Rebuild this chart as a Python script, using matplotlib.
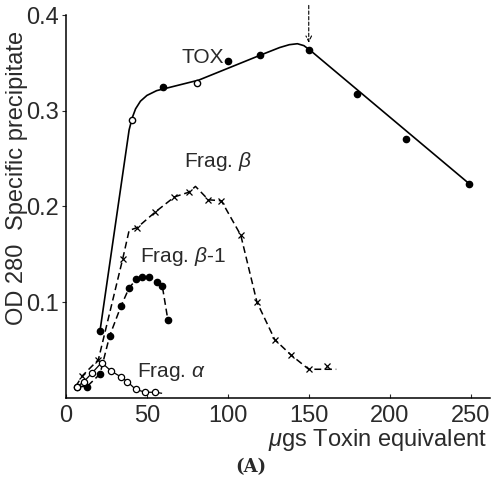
import matplotlib
matplotlib.use("Agg")
import matplotlib.pyplot as plt

plt.rcParams['font.family'] = ['Liberation Sans', 'DejaVu Sans']
plt.rcParams['mathtext.fontset'] = 'custom'
plt.rcParams['mathtext.it'] = 'Liberation Sans:italic'
plt.rcParams['mathtext.rm'] = 'Liberation Sans'

# TOX: measured points (filled circles) and the hand drawn curve
tox_x = [21, 41, 60, 81, 100, 120, 150, 180, 210, 249]
tox_y = [0.070, 0.290, 0.325, 0.329, 0.352, 0.358, 0.363, 0.318, 0.270, 0.224]
tox_open = [False, True, False, True, False, False, False, False, False, False]
tox_curve_x = [21, 39, 41, 43, 46, 50, 56, 82, 120, 132, 138, 143, 147, 151, 249]
tox_curve_y = [0.070, 0.280, 0.293, 0.302, 0.310, 0.316, 0.321, 0.332, 0.358,
               0.366, 0.369, 0.370, 0.368, 0.363, 0.224]

# Frag. beta (x markers, dashed)
fb_x = [10, 20, 35, 44, 55, 67, 76, 88, 96, 108, 118, 129, 139, 150, 161]
fb_y = [0.023, 0.040, 0.145, 0.178, 0.194, 0.210, 0.215, 0.207, 0.206, 0.170,
        0.100, 0.061, 0.045, 0.030, 0.033]
fb_line_x = [6, 10, 20, 35, 39, 44, 55, 67, 76, 80, 88, 96, 108, 118, 129, 139, 150, 167]
fb_line_y = [0.012, 0.023, 0.040, 0.145, 0.175, 0.178, 0.194, 0.210, 0.215, 0.221,
             0.207, 0.206, 0.170, 0.100, 0.061, 0.045, 0.030, 0.030]

# Frag. beta-1 (filled circles, dashed)
fb1_x = [7, 13, 21, 27, 34, 39, 43.5, 47, 51, 56, 59.5, 63]
fb1_y = [0.012, 0.012, 0.025, 0.065, 0.096, 0.115, 0.124, 0.126, 0.126, 0.121, 0.117, 0.081]

# Frag. alpha (open circles, solid)
fa_x = [7, 11, 16, 22, 28, 34, 38, 43, 49, 55]
fa_y = [0.012, 0.017, 0.026, 0.037, 0.028, 0.022, 0.017, 0.009, 0.006, 0.006]
fa_line_x = fa_x + [59]
fa_line_y = fa_y + [0.005]

x_ticks = [0, 50, 100, 150, 200, 250]
y_ticks = [0.1, 0.2, 0.3, 0.4]

txt = '#2a2a2a'

fig = plt.figure(figsize=(4.94, 4.94), dpi=100)
ax = fig.add_axes([66 / 494, 1 - 398 / 494, 424 / 494, 383 / 494])

dash = (0, (4.5, 2.5))
ax.plot(tox_curve_x, tox_curve_y, color='black', lw=1.2)
for x, y, o in zip(tox_x, tox_y, tox_open):
    ax.plot(x, y, 'o', ms=4.5, mfc='white' if o else 'black', mec='black', mew=1.0)

ax.plot(fb_line_x, fb_line_y, color='black', lw=1.1, ls=dash)
ax.plot(fb_x, fb_y, 'x', color='black', ms=4, mew=0.9)

ax.plot(fb1_x, fb1_y, color='black', lw=1.1, ls=dash, marker='o', ms=4.5)

ax.plot(fa_line_x, fa_line_y, color='black', lw=0.9)
ax.plot(fa_x, fa_y, 'o', ms=4.5, mfc='white', mec='black', mew=0.9)

# arrow above the TOX peak
ax.annotate('', xy=(150, 0.371), xytext=(150, 0.410),
            arrowprops=dict(arrowstyle='->', lw=0.8, ls=(0, (3, 2)), color='black',
                            shrinkA=0, shrinkB=0),
            annotation_clip=False)

lab = dict(fontsize=15, color=txt, va='center', ha='left')
ax.text(71.5, 0.356, 'TOX', **lab)
ax.text(73, 0.247, r'Frag. $\beta$', **lab)
ax.text(46, 0.148, r'Frag. $\beta$-1', **lab)
ax.text(44, 0.027, r'Frag. $\alpha$', **lab)

ax.set_xlim(0, 262)
ax.set_ylim(0, 0.4)
ax.set_xticks(x_ticks)
ax.set_xticklabels([str(t) for t in x_ticks])
ax.set_yticks(y_ticks)
ax.set_yticklabels(['%.1f' % t for t in y_ticks])
ax.spines['top'].set_visible(False)
ax.spines['right'].set_visible(False)
for s in ('left', 'bottom'):
    ax.spines[s].set_linewidth(1.1)
ax.tick_params(axis='x', direction='in', length=3, labelsize=17, pad=5, colors=txt)
ax.tick_params(axis='y', direction='out', length=3, labelsize=17, pad=2, colors=txt)

fig.text(17 / 494, 1 - 130 / 494, 'Specific precipitate', rotation=90,
         ha='center', va='center', fontsize=17, color=txt)
fig.text(17 / 494, 1 - 284 / 494, 'OD 280', rotation=90,
         ha='center', va='center', fontsize=17, color=txt)
fig.text(487 / 494, 1 - 440 / 494, r'$\mu$gs Toxin equivalent',
         ha='right', va='center', fontsize=17, color=txt)
fig.text(251 / 494, 1 - 467 / 494, '(A)', ha='center', va='center',
         fontsize=13, family='DejaVu Serif', weight='bold', color=txt)

fig.savefig('out.png', dpi=100)
